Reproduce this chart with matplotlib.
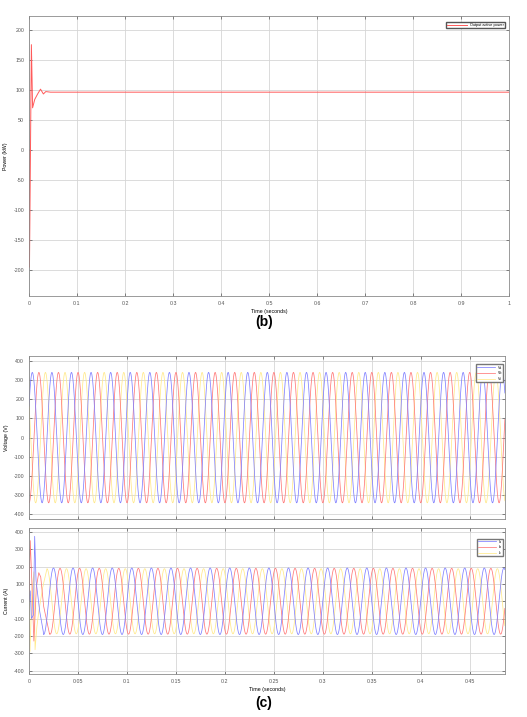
import numpy as np
import matplotlib
matplotlib.use('Agg')
import matplotlib.pyplot as plt

plt.rcParams['font.family'] = ['Liberation Sans', 'DejaVu Sans']
plt.rcParams['axes.unicode_minus'] = False

# (b) output active power
p_time = [0.0, 0.001, 0.005, 0.0075, 0.012, 0.018, 0.024, 0.030, 0.035, 0.045, 1.0]
p_kw = [0, -195, 175, 70, 84, 93, 101, 93, 97, 96, 96]
p_yticks = [-200, -150, -100, -50, 0, 50, 100, 150, 200]
p_xticks = [0, 0.1, 0.2, 0.3, 0.4, 0.5, 0.6, 0.7, 0.8, 0.9, 1]

# (c) three-phase voltage and current, 50 Hz
freq = 50.0
v_names = ['Va', 'Vb', 'Vc']
v_amp = [340, 340, 340]
v_peak_time = [0.0034, 0.0101, 0.0168]   # time of first positive peak
i_names = ['Ia', 'Ib', 'Ic']
i_amp = [192, 190, 188]
i_peak_time = [0.025, 0.0317, 0.0183]
# start-up transient of the currents (time, value)
i_tr_time = [
    [0.0, 0.0013, 0.0025, 0.0045, 0.0058, 0.0072, 0.0085, 0.0110, 0.0146],
    [0.0, 0.0013, 0.0030, 0.0050, 0.0075, 0.0100, 0.0120, 0.0150, 0.0210],
    [0.0, 0.0010, 0.0030, 0.0050, 0.0062, 0.0080, 0.0100, 0.0140, 0.0183],
]
i_tr_val = [
    [0, 60, -100, -80, 375, 120, 60, -60, -175],
    [0, 350, 100, -230, 80, 165, 140, -30, -190],
    [0, -290, 50, 170, -280, -150, -60, 80, 188],
]
c_xticks = [0, 0.05, 0.1, 0.15, 0.2, 0.25, 0.3, 0.35, 0.4, 0.45]
c_yticks = [-400, -300, -200, -100, 0, 100, 200, 300, 400]

colors = ['#8080ff', '#ff7878', '#ffe98a']
fs = 3.8


def style(ax):
    ax.grid(True, color='#d6d6d6', linewidth=0.6)
    for s in ax.spines.values():
        s.set_color('#8a8a8a')
        s.set_linewidth(0.6)
    ax.tick_params(direction='in', length=2, width=0.5, labelsize=fs,
                   colors='#555555', top=True, right=True)


fig = plt.figure(figsize=(5.27, 7.17), dpi=100)

ax1 = fig.add_axes([0.055, 0.587, 0.911, 0.391])
ax1.plot(p_time, p_kw, color='#ff5a5a', linewidth=0.7, label='Output active power')
ax1.set_xlim(0, 1)
ax1.set_ylim(-243, 223)
ax1.set_xticks(p_xticks)
ax1.set_xticklabels([f'{v:g}' for v in p_xticks])
ax1.set_yticks(p_yticks)
ax1.set_xlabel('Time (seconds)', fontsize=fs, labelpad=2)
ax1.set_ylabel('Power (kW)', fontsize=fs, labelpad=4)
style(ax1)
ax1.legend(loc='upper right', fontsize=2.8, handlelength=5, framealpha=1,
           edgecolor='#555555', fancybox=False, borderpad=0.3,
           bbox_to_anchor=(0.995, 0.985))
fig.text(0.501, 0.551, '(b)', fontsize=10, fontweight='bold', ha='center', va='center')

# voltage
ax2 = fig.add_axes([0.055, 0.276, 0.903, 0.2273])
t = np.linspace(0, 0.486, 6000)
w = 2 * np.pi * freq
for k in [2, 1, 0]:
    ax2.plot(t, v_amp[k] * np.cos(w * (t - v_peak_time[k])), color=colors[k],
             linewidth=0.55, label=v_names[k])
ax2.set_xlim(0, 0.486)
ax2.set_ylim(-425, 425)
ax2.set_xticks(c_xticks)
ax2.set_xticklabels([])
ax2.set_yticks(c_yticks)
ax2.set_ylabel('Voltage (V)', fontsize=fs, labelpad=3)
style(ax2)
h, l = ax2.get_legend_handles_labels()
ax2.legend(h[::-1], l[::-1], loc='upper right', fontsize=2.6, handlelength=5,
           framealpha=1, edgecolor='#777777', fancybox=False, borderpad=0.3,
           bbox_to_anchor=(1.0, 0.96))

# current
ax3 = fig.add_axes([0.055, 0.060, 0.903, 0.2036])
for k in [2, 1, 0]:
    t0 = i_tr_time[k][-1]
    ts = t[t > t0]
    tt = np.concatenate([i_tr_time[k], ts])
    yy = np.concatenate([i_tr_val[k], i_amp[k] * np.cos(w * (ts - i_peak_time[k]))])
    ax3.plot(tt, yy, color=colors[k], linewidth=0.55, label=i_names[k])
ax3.set_xlim(0, 0.486)
ax3.set_ylim(-420, 423)
ax3.set_xticks(c_xticks)
ax3.set_xticklabels([f'{v:g}' for v in c_xticks])
ax3.set_yticks(c_yticks)
ax3.set_xlabel('Time (seconds)', fontsize=fs, labelpad=2)
ax3.set_ylabel('Current (A)', fontsize=fs, labelpad=3)
style(ax3)
h, l = ax3.get_legend_handles_labels()
ax3.legend(h[::-1], l[::-1], loc='upper right', fontsize=2.6, handlelength=5,
           framealpha=1, edgecolor='#777777', fancybox=False, borderpad=0.3,
           bbox_to_anchor=(1.0, 0.94))
fig.text(0.501, 0.02, '(c)', fontsize=10, fontweight='bold', ha='center', va='center')

fig.savefig('out.png', dpi=100)
